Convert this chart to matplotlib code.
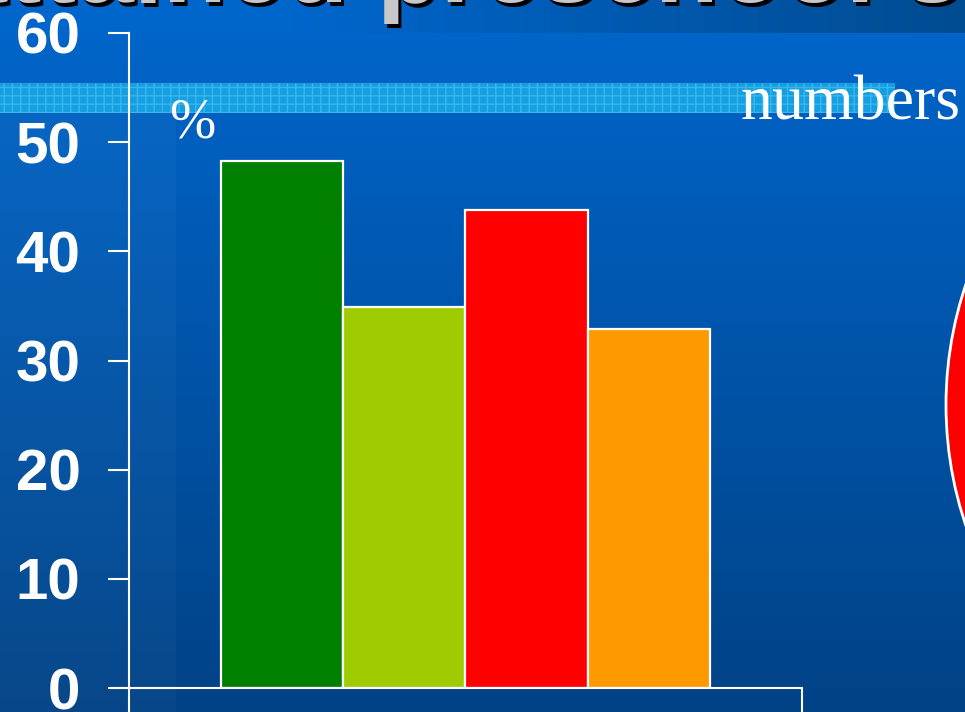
import matplotlib
matplotlib.use('Agg')
import matplotlib.pyplot as plt
import numpy as np
from matplotlib.patches import Rectangle, Ellipse

categories = ['Group 1', 'Group 2', 'Group 3', 'Group 4']
values = [48.3, 34.9, 43.8, 32.9]
bar_colors = ['#007F00', '#9ECC00', '#FF0000', '#FF9900']
yticks = [0, 10, 20, 30, 40, 50, 60]
title_text = 'attained preschool standards'

W, H = 965, 712
fig = plt.figure(figsize=(W / 100, H / 100), dpi=100)

# ---- background layer (pixel coordinates) ----
bg = fig.add_axes([0, 0, 1, 1], zorder=0)
bg.set_xlim(0, W)
bg.set_ylim(H, 0)
bg.axis('off')
g = np.linspace(0, 1, 256)[:, None, None]
top = np.array([0, 102, 204]) / 255
bot = np.array([0, 66, 134]) / 255
img = top + (bot - top) * g
bg.imshow(img, extent=[0, W, H, 0], aspect='auto', zorder=0)
# top title band with horizontal darkening
hg = np.linspace(0, 1, 256)[None, :, None]
c1 = np.array([0, 102, 204]) / 255
c2 = np.array([0, 76, 146]) / 255
band = c1 + (c2 - c1) * np.clip((hg - 0.3) / 0.7, 0, 1)
bg.imshow(band, extent=[0, W, 33, 0], aspect='auto', zorder=1)
# lighter left strip
bg.add_patch(Rectangle((0, 113), 176, H - 113, color='white', alpha=0.03, lw=0, zorder=1))
# light blue stripe
bg.add_patch(Rectangle((0, 83), 895, 30, facecolor='#12A0E2', edgecolor='#3DB4EC',
                       hatch='++', lw=0, zorder=2))
# title text (cut off at top)
bg.text(-48, 5.5, title_text, fontsize=75, color='black', family='Liberation Sans',
        fontweight='bold', va='baseline', ha='left', zorder=3)
bg.text(-51, 2, title_text, fontsize=75, color='#C8C8C8', family='Liberation Sans',
        fontweight='bold', va='baseline', ha='left', zorder=4)
# red circle at right
bg.add_patch(Ellipse((1322, 405), 752, 752, facecolor='#FF0000', edgecolor='white',
                     lw=2, zorder=3))
# labels
bg.text(169, 137, '%', fontsize=40, color='white', family='Liberation Serif',
        va='baseline', ha='left', zorder=5)
bg.text(740, 120, 'numbers', fontsize=46, color='white', family='Liberation Serif',
        va='baseline', ha='left', zorder=5)

# ---- chart ----
ax = fig.add_axes([129 / W, (H - 688) / H, (802 - 129) / W, (688 - 33) / H], zorder=2)
ax.patch.set_alpha(0)
x = np.arange(len(values))
ax.bar(x, values, width=1.0, color=bar_colors, edgecolor='white', linewidth=1.6)
ax.set_xlim(-1.252, 4.252)
ax.set_ylim(0, 60)
ax.set_yticks(yticks)
ax.set_yticklabels([str(v) for v in yticks], fontsize=42, fontweight='bold',
                   color='white', family='Liberation Sans')
ax.tick_params(axis='y', direction='out', length=15, width=1.5, color='white', pad=20)
ax.set_xticks([-1.252, 4.252])
ax.set_xticklabels(['', ''])
ax.tick_params(axis='x', direction='out', length=18, width=1.5, color='white')
for s in ['top', 'right']:
    ax.spines[s].set_visible(False)
for s in ['left', 'bottom']:
    ax.spines[s].set_color('white')
    ax.spines[s].set_linewidth(1.5)
ax.spines['bottom'].set_bounds(-1.252, 4.252)

fig.savefig('out.png', dpi=100)
